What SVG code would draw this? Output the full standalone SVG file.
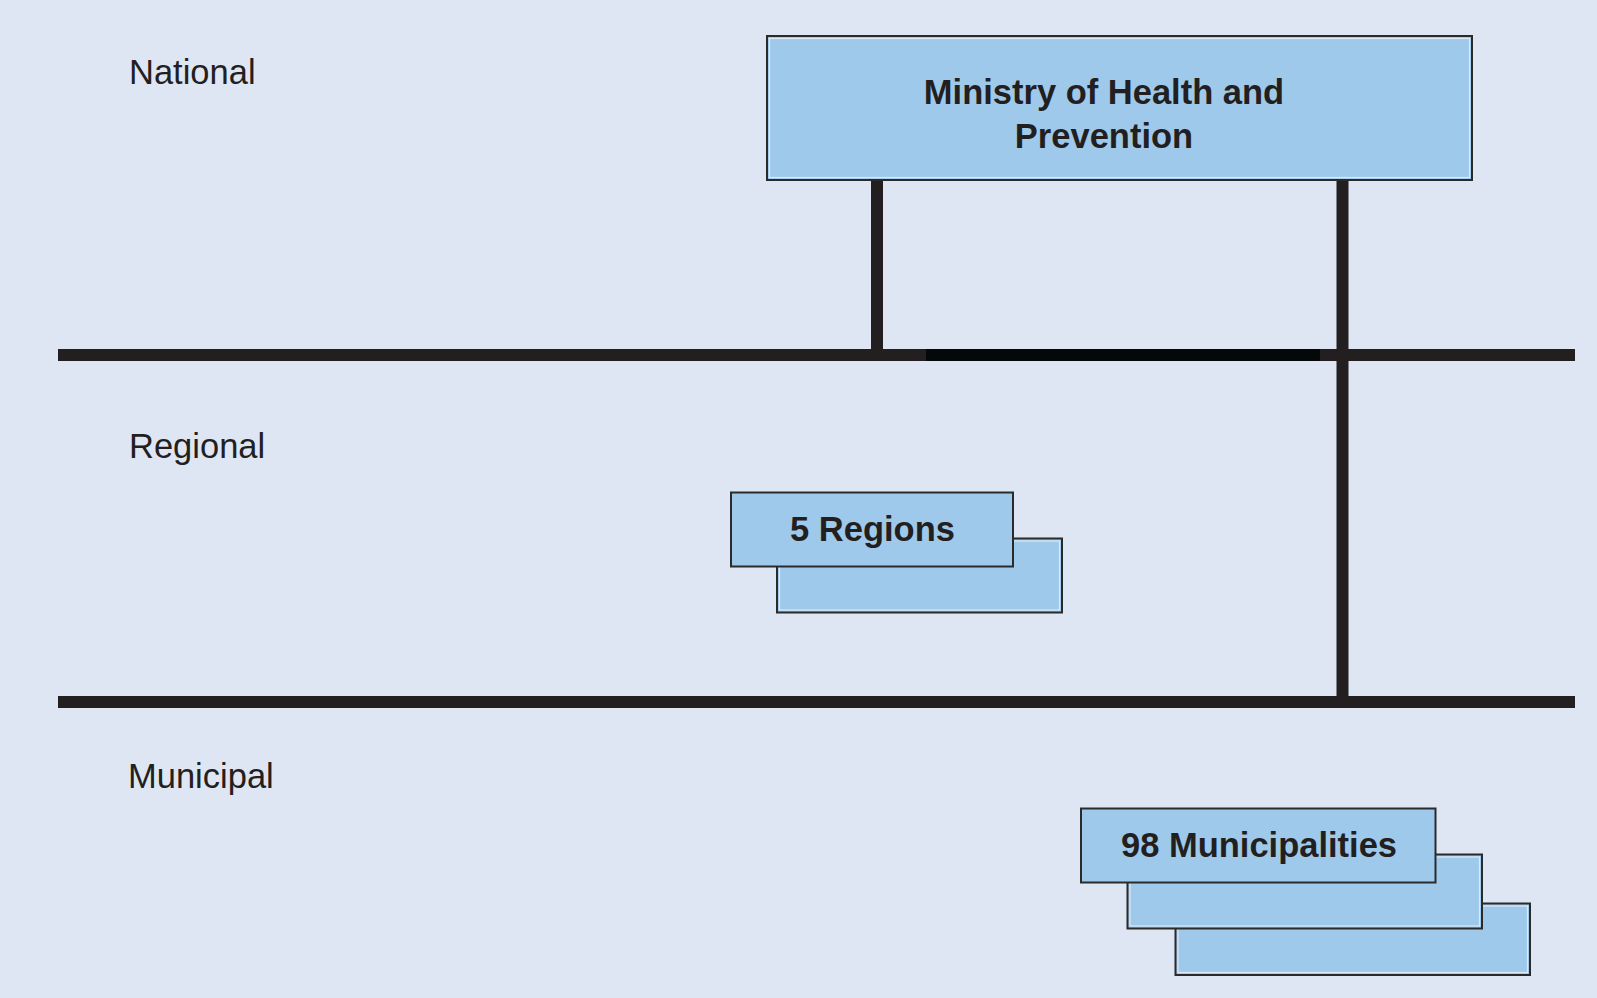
<svg xmlns="http://www.w3.org/2000/svg" width="1597" height="998" viewBox="0 0 1597 998">
<style>
.lbl{font-family:"Liberation Sans",Arial,sans-serif;font-size:34.5px;fill:#231f20}
.bt{font-family:"Liberation Sans",Arial,sans-serif;font-size:34.5px;font-weight:bold;fill:#231f20;text-anchor:middle}
.box{fill:#9fc9eb;stroke:#2a2a2a;stroke-width:2}
.inner{fill:none;stroke:#dce8f5;stroke-width:1.2}
.ln{stroke:#231f20;stroke-width:12;fill:none}
</style>
<rect x="0" y="0" width="1597" height="998" fill="#dfe6f3"/>
<g id="labels">
<text class="lbl" x="129" y="84">National</text>
<text class="lbl" x="129" y="458">Regional</text>
<text class="lbl" x="128" y="788">Municipal</text>
</g>
<g id="connectors">
<line class="ln" x1="58" y1="355" x2="1575" y2="355"/>
<line x1="926" y1="355" x2="1320" y2="355" stroke="#050808" stroke-width="12"/>
<line class="ln" x1="58" y1="702" x2="1575" y2="702"/>
<line class="ln" x1="877" y1="179" x2="877" y2="355"/>
<line class="ln" x1="1342.5" y1="179" x2="1342.5" y2="702"/>
</g>
<g id="ministry">
<rect class="box" x="767" y="36" width="705" height="144"/>
<rect class="inner" x="769.5" y="38.5" width="700" height="139"/>
<text class="bt" x="1104" y="104">Ministry of Health and</text>
<text class="bt" x="1104" y="148">Prevention</text>
</g>
<g id="regions">
<rect class="box" x="777" y="538.5" width="285" height="74"/>
<rect class="inner" x="779.5" y="541" width="280" height="69"/>
<rect class="box" x="731" y="492.5" width="282" height="74"/>
<text class="bt" x="872.5" y="541">5 Regions</text>
</g>
<g id="municipalities">
<rect class="box" x="1175.5" y="903.5" width="354.5" height="71.5"/>
<rect class="inner" x="1178" y="906" width="349.5" height="66.5"/>
<rect class="box" x="1127.5" y="854.5" width="354.5" height="74"/>
<rect class="inner" x="1130" y="857" width="349.5" height="69"/>
<rect class="box" x="1081" y="808.5" width="354.5" height="74"/>
<text class="bt" x="1259" y="857">98 Municipalities</text>
</g>
</svg>
